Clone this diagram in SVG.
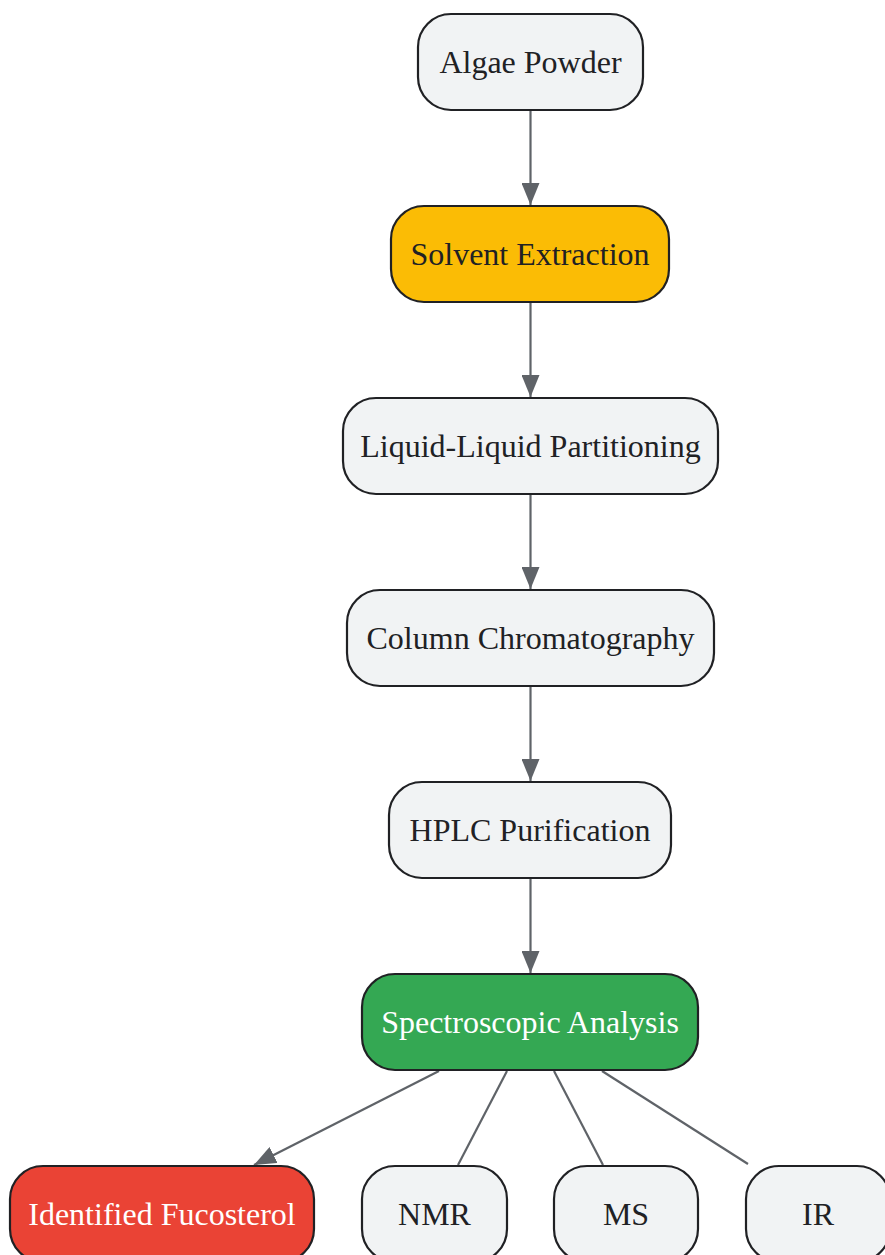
<svg xmlns="http://www.w3.org/2000/svg" width="885" height="1255" viewBox="0 0 885 1255">
<style>
.n rect{stroke:#202124;stroke-width:2.2;fill:#F1F3F4}
.n text{font-family:"Liberation Serif","Times New Roman",serif;font-size:32px;fill:#202124;text-anchor:middle}
.n.w text{fill:#ffffff}
.e line{stroke:#5F6368;stroke-width:2.2;fill:none}
</style>
<defs>
<marker id="ah" markerUnits="userSpaceOnUse" viewBox="0 0 22 18" markerWidth="22" markerHeight="18" refX="22" refY="9" orient="auto">
<path d="M0,0 L22,9 L0,18 z" fill="#5F6368"/>
</marker>
</defs>
<rect width="885" height="1255" fill="#ffffff"/>
<g id="connectors" class="e">
<line x1="530.5" y1="111" x2="530.5" y2="205" marker-end="url(#ah)"/>
<line x1="530.5" y1="303" x2="530.5" y2="397" marker-end="url(#ah)"/>
<line x1="530.5" y1="495" x2="530.5" y2="589" marker-end="url(#ah)"/>
<line x1="530.5" y1="687" x2="530.5" y2="781" marker-end="url(#ah)"/>
<line x1="530.5" y1="879" x2="530.5" y2="973" marker-end="url(#ah)"/>
<line x1="439" y1="1071" x2="254" y2="1165" marker-end="url(#ah)"/>
<line x1="507" y1="1071" x2="458" y2="1165"/>
<line x1="554" y1="1071" x2="603" y2="1165"/>
<line x1="602" y1="1071" x2="748" y2="1164"/>
</g>
<g id="algae" class="n">
<rect x="418" y="14" width="225" height="96" rx="33"/>
<text x="530.5" y="73">Algae Powder</text>
</g>
<g id="solvent" class="n">
<rect x="391" y="206" width="278" height="96" rx="33" style="fill:#FBBC05"/>
<text x="530" y="265">Solvent Extraction</text>
</g>
<g id="lle" class="n">
<rect x="343" y="398" width="375" height="96" rx="33"/>
<text x="530.5" y="457">Liquid-Liquid Partitioning</text>
</g>
<g id="column" class="n">
<rect x="347" y="590" width="367" height="96" rx="33"/>
<text x="530.5" y="649">Column Chromatography</text>
</g>
<g id="hplc" class="n">
<rect x="389" y="782" width="282" height="96" rx="33"/>
<text x="530" y="841">HPLC Purification</text>
</g>
<g id="spectro" class="n w">
<rect x="362" y="974" width="336" height="96" rx="33" style="fill:#34A853"/>
<text x="530" y="1033">Spectroscopic Analysis</text>
</g>
<g id="fucosterol" class="n w">
<rect x="10" y="1166" width="304" height="96" rx="33" style="fill:#EA4335"/>
<text x="162" y="1225">Identified Fucosterol</text>
</g>
<g id="nmr" class="n">
<rect x="362" y="1166" width="145" height="96" rx="33"/>
<text x="434.5" y="1225">NMR</text>
</g>
<g id="ms" class="n">
<rect x="554" y="1166" width="144" height="96" rx="33"/>
<text x="626" y="1225">MS</text>
</g>
<g id="ir" class="n">
<rect x="746" y="1166" width="144" height="96" rx="33"/>
<text x="818" y="1225">IR</text>
</g>
</svg>
